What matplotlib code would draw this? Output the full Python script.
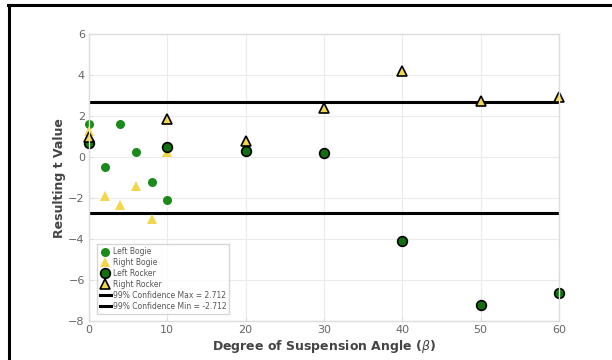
import matplotlib.pyplot as plt
from matplotlib.lines import Line2D

bogie_x = [0, 2, 4, 6, 8, 10]
left_bogie = [1.6, -0.5, 1.62, 0.25, -1.2, -2.1]
right_bogie = [1.3, -1.9, -2.35, -1.4, -3.0, 0.25]

rocker_x = [0, 10, 20, 30, 40, 50, 60]
left_rocker = [0.7, 0.52, 0.28, 0.18, -4.1, -7.2, -6.62]
right_rocker = [1.0, 1.85, 0.8, 2.4, 4.2, 2.75, 2.95]

conf = 2.712
conf_x = [0, 60]

fig = plt.figure(figsize=(6.12, 3.6), dpi=100)
ax = fig.add_axes([0.1454, 0.108, 0.768, 0.797])

yellow = '#f2d64b'
ax.plot(bogie_x, left_bogie, 'o', color='#1a8a1a', markersize=6.5, markeredgewidth=0, clip_on=False, label='Left Bogie')
ax.plot(bogie_x, right_bogie, '^', color=yellow, markersize=7, markeredgewidth=0, clip_on=False, label='Right Bogie')
ax.plot(rocker_x, left_rocker, 'o', color='#107010', markeredgecolor='black', markersize=7, markeredgewidth=1.2,
        clip_on=False, label='Left Rocker')
ax.plot(rocker_x, right_rocker, '^', color=yellow, markeredgecolor='black', markersize=7.5, markeredgewidth=1.2,
        clip_on=False, label='Right Rocker')
ax.plot(conf_x, [conf, conf], color='black', linewidth=2.2, zorder=1.5, label='99% Confidence Max = 2.712')
ax.plot(conf_x, [-conf, -conf], color='black', linewidth=2.2, zorder=1.5, label='99% Confidence Min = -2.712')

ax.set_xlim(0, 60)
ax.set_ylim(-8, 6)
ax.set_xticks([0, 10, 20, 30, 40, 50, 60])
ax.set_yticks([-8, -6, -4, -2, 0, 2, 4, 6])
ax.grid(True, color='#ebebeb', linewidth=0.8)
ax.set_axisbelow(True)
for s in ax.spines.values():
    s.set_color('#dddddd')
    s.set_linewidth(1.0)
ax.tick_params(axis='both', colors='#dddddd', labelcolor='#666666', labelsize=8, length=3, direction='in', pad=3)

ax.set_xlabel(r'Degree of Suspension Angle ($\beta$)', fontsize=9, fontweight='bold', color='#444444', labelpad=2)
ax.set_ylabel('Resulting t Value', fontsize=9, fontweight='bold', color='#444444', labelpad=2)

leg = ax.legend(loc='lower left', fontsize=5.5, frameon=True, fancybox=False, edgecolor='#cccccc',
                handlelength=1.5, handletextpad=0.2, labelspacing=0.25, borderpad=0.4,
                bbox_to_anchor=(0.008, 0.012))
for t in leg.get_texts():
    t.set_color('#555555')

fig.add_artist(Line2D([7.5 / 612, 1.0], [1 - 4.5 / 360, 1 - 4.5 / 360], color='black', linewidth=2.2))
fig.add_artist(Line2D([8.5 / 612, 8.5 / 612], [0, 1 - 4.5 / 360], color='black', linewidth=2.2))

fig.savefig('out.png', dpi=100)
